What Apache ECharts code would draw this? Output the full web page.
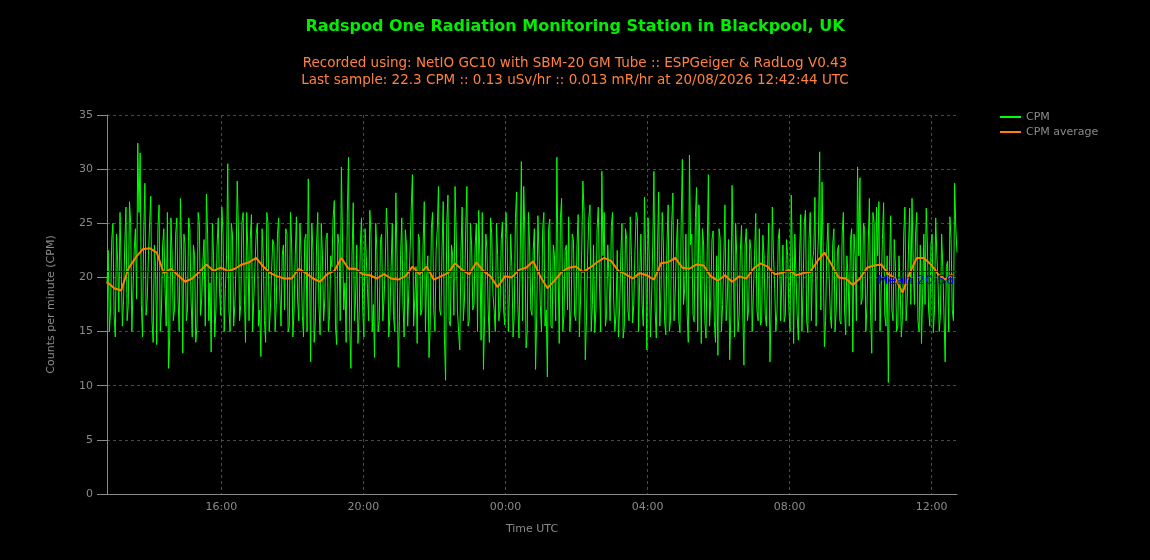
<!DOCTYPE html>
<html>
<head>
<meta charset="utf-8">
<script src="https://cdn.jsdelivr.net/npm/echarts@6/dist/echarts.min.js"></script>
<style>
html,body{margin:0;padding:0;background:#000;}
#chart{width:1150px;height:560px;}
</style>
</head>
<body>
<div id="chart"></div>
<script>
// ---- data ----
const titleText = 'Radspod One Radiation Monitoring Station in Blackpool, UK';
const subText = 'Recorded using: NetIO GC10 with SBM-20 GM Tube :: ESPGeiger & RadLog V0.43\nLast sample: 22.3 CPM :: 0.13 uSv/hr :: 0.013 mR/hr at 20/08/2026 12:42:44 UTC';
const firstSample = '2026-08-19T12:46:44Z';
const lastSample = '2026-08-20T12:42:44Z';
const cpmStepMinutes = 2;
const avgStepMinutes = 12;
const meanCPM = 20.56;

// CPM samples on the even 2-minute slots (every 4 minutes)
const cpmValuesEven = [
19.4,15,23.5,16.5,24,16.8,26,18,26.5,17.5,25,19,24.5,32.4,31.5,
14.5,28.7,18,25,16,23,13.8,26.7,17,24.5,15.5,11.6,25.5,16,24,
18,27.3,13,23,17,24.5,14.5,22,15.5,25,18,23.5,27.7,16,13.1,
22,17,25.5,16.5,24,19,30.5,15,24,17.5,28.9,16,25,18.5,26,
16,25.8,18,24,15.5,12.7,22,14,25,17,23.5,15,24,18.5,22,
17,24,15.5,23,17,25.6,16,22,14.5,24,29.1,12.2,22.5,16,26,
14.7,22,18,24.1,16.5,21,27.1,13.8,23,30.2,17,14,31.1,11.6,26.9,
18,13.9,23,17,24.5,19,26.2,15,12.6,22.5,16,24,18,26.4,14.5,
21,16.5,27.8,11.7,22,17.5,24.4,15.5,22.5,29.5,18,13.9,23.5,17,27,
20,12.6,24.5,17,22.5,28.4,16.5,27,10.5,27.6,15.5,22,28.4,17,13.3,
26.5,18,28.4,16,23,17.5,25,26.2,14.2,11.5,24,17,25.5,18.5,15,
22,17,25.1,15.6,23.5,18.5,21,16.5,27.9,14.4,30.7,28.4,13.5,26,17,
22.5,11.5,25.7,17.5,24.5,15.5,10.8,25.4,15.3,22,31.1,13.9,27.3,16.5,23,
25.6,17,23.5,16,25.8,18,28.9,12.4,22,26.7,17.5,14.9,24.5,19.5,29.8,
26,16.5,20,24.7,18,16.7,14.5,22,14.4,24.5,17,25.6,15.8,22.5,25.5,
20,17.5,27.4,13.3,22,18,29.8,14.4,27.9,19,23,14.7,26.7,16,27.8,
18.5,25.4,14.9,30.9,19,16.8,31.3,24,15.9,28.3,26.7,13.9,23,14.4,29.5,
18,24.3,14,12.8,23.5,17.5,26.7,18,12.4,28.5,14.5,22,16.5,24.8,11.9,
24.5,17,22.5,18.5,25.9,16,15.6,23.9,16.5,21,12.2,26.5,19,17,24.5,
19.5,15.9,23.5,17,27.6,13.9,24,14.2,25.8,19,26.2,14.9,26,21.5,27.4,
21,31.6,28.8,13.6,22.5,20,15.3,24.5,17,23,15.7,26,14.7,20,23.5,
13.1,22,30.2,29.2,18,24.5,17.5,27.3,13,25,26.5,27,19,26.9,15.5,
10.3,25.7,16,21,15.5,19,16.5,26.5,18,26.4,27.3,17.5,26,15,13.9,
24,26.4,17,23,14.9,25.5,19.5,16.5,21,12.2,21.5,25.6,17,28.7,22.3
];

// CPM samples on the odd 2-minute slots (between the even ones)
const cpmValuesOdd = [
22.5,17,25,14.5,21.5,26,15.5,23,16,27,15,22.5,18,26,17.5,
24,16.5,22,27.5,14,21,24.5,15,23,19,26,14.5,22,17,25.5,
15,22.5,24,16,25.5,18,23,14,26,16.5,21.5,15.5,24,19.5,25,
14.5,23,19,26.5,15,22,17,25,15.5,21,24.5,17.5,26,14,22.5,
23.5,15,21,25,17,24.5,16,26,15,20.5,23,17.5,25.5,15.5,23,
24.5,15,26,14.5,22,18,25,16.5,23.5,15,21.5,25,14,23,17.5,
25,16,23.5,15,22,25.5,15.5,24,16,23,19.5,26,15.5,22,16,
23,16.5,25.5,14.5,22,16,24,17.5,25,15,23.5,16,21,24,16.5,
25,15,22,16,25.5,14.5,23,19,26.5,15.5,21,24,16.5,23,15,
22,15.5,26,15,24.5,17,22.5,14.5,25,16,23,16.5,24,15,22.5,
16,24.5,15.5,25,17,23,15,22,26,16.5,22.5,14,24,17,25,
16,23.5,17,26,15,24,14.5,25.5,17.5,22,16,24,15,23,16.5,
24.5,16.5,22,15,26,17,24.5,15.5,23,16,21,25.5,15,22.5,17,
15,24,16.5,23,14.5,22.5,26,16,25.5,15,23,17,26.5,15,22,
15.5,23,16,26,15,22.5,17,25,15.5,23.5,16,22,17.5,26,15,
24,15.5,22,25.5,14.5,23,17,22.5,15.5,26,16,23,15,25,16,
23,16,25,17.5,24,14,23,16.5,25.5,15,22,24.5,16,22.5,15.5,
23.5,16,22,24.5,15,21.5,16,23.5,16.5,22,25,15,22.5,17,23,
16,23.5,15,22,17,24.5,16,22,15.5,25,17,22,15,23.5,16,
23,16.5,22,15,21.5,24,16.5,22,15,25,16,23.5,16,22.5,15.5,
24,17,22,16,25,16.5,23,15,22.5,16,24,17,22,15.5,24.5,
24,16,22,17.5,25,15,23,16.5,26,16,22,15,23.5,16.5,22,
21,17,23.5,15,22,14.5,24,16,22.5,17.5,21.5,24,16,23,18.5,
17.5,23,15.5,24,17,22,15,24,16.5,21,15,23.5,16,24.5
];

const avgValues = [
19.6,19.0,18.8,20.8,21.8,22.6,22.7,22.3,20.4,20.8,
20.2,19.6,19.9,20.5,21.2,20.6,20.9,20.6,20.8,21.2,
21.4,21.8,21.0,20.4,20.1,19.9,19.9,20.8,20.4,19.9,
19.6,20.3,20.6,21.8,20.8,20.8,20.3,20.2,19.9,20.3,
19.9,19.8,20.1,21.0,20.3,21.0,19.8,20.1,20.4,21.3,
20.7,20.3,21.4,20.6,20.1,19.1,20.1,20.0,20.7,20.9,
21.5,20.1,19.0,19.7,20.5,20.9,21.0,20.5,20.9,21.4,
21.8,21.5,20.6,20.3,19.9,20.4,20.2,19.8,21.3,21.4,
21.8,20.9,20.8,21.2,21.1,20.1,19.7,20.2,19.6,20.1,
19.9,20.8,21.3,21.0,20.3,20.4,20.7,20.2,20.4,20.5,
21.5,22.3,21.2,20.0,19.9,19.3,19.9,20.9,21.1,21.2,
20.3,19.9,18.6,20.4,21.8,21.8,21.2,20.3,19.8,20.3
];

const xTickTimes = ['2026-08-19T16:00:00Z','2026-08-19T20:00:00Z','2026-08-20T00:00:00Z','2026-08-20T04:00:00Z','2026-08-20T08:00:00Z','2026-08-20T12:00:00Z'];
const xTickLabels = ['16:00','20:00','00:00','04:00','08:00','12:00'];
const yTicks = {min: 0, max: 35, interval: 5};

// ---- build ----
const t0 = Date.parse(firstSample);
const tEnd = Date.parse(lastSample);
const cpmData = [];
cpmValuesEven.forEach((v, i) => {
  cpmData.push([t0 + (2 * i) * cpmStepMinutes * 60000, v]);
  if (i < cpmValuesOdd.length) cpmData.push([t0 + (2 * i + 1) * cpmStepMinutes * 60000, cpmValuesOdd[i]]);
});
const avgData = avgValues.map((v, i) => [t0 + i * avgStepMinutes * 60000, v]);
const tickMs = xTickTimes.map(s => Date.parse(s));
function labelOf(v) {
  let best = '', bestD = Infinity;
  tickMs.forEach((t, i) => { const d = Math.abs(t - v); if (d < bestD) { bestD = d; best = xTickLabels[i]; } });
  return bestD < 60000 ? best : '';
}

const font = 'DejaVu Sans, Verdana, sans-serif';
const chart = echarts.init(document.getElementById('chart'), null, {renderer: 'canvas'});
chart.setOption({
  backgroundColor: '#000000',
  animation: false,
  title: {
    text: titleText,
    subtext: subText,
    left: 'center',
    top: 17,
    padding: 0,
    itemGap: 18,
    textStyle: {color: '#00ee00', fontFamily: font, fontWeight: 'bold', fontSize: 16, lineHeight: 20},
    subtextStyle: {color: '#ff8040', fontFamily: font, fontSize: 13.5, lineHeight: 17}
  },
  legend: {
    data: ['CPM', 'CPM average'],
    orient: 'vertical',
    left: 1000,
    top: 111,
    icon: 'rect',
    itemWidth: 21,
    itemHeight: 2,
    itemGap: 3,
    padding: 0,
    textStyle: {color: '#8a8a8a', fontFamily: font, fontSize: 11, lineHeight: 12}
  },
  grid: {left: 107, right: 193, top: 115, bottom: 66, containLabel: false},
  xAxis: {
    type: 'value',
    min: t0,
    max: tEnd,
    name: 'Time UTC',
    nameLocation: 'middle',
    nameGap: 30,
    nameTextStyle: {color: '#8a8a8a', fontFamily: font, fontSize: 11},
    axisLine: {show: true, lineStyle: {color: '#8a8a8a', width: 1}},
    axisTick: {show: false, customValues: tickMs},
    axisLabel: {
      customValues: tickMs,
      color: '#8a8a8a', fontFamily: font, fontSize: 11, margin: 8,
      formatter: v => labelOf(v)
    },
    splitLine: {show: true, lineStyle: {color: '#4a4a4a', type: [3, 3], width: 1}}
  },
  yAxis: {
    type: 'value',
    min: yTicks.min,
    max: yTicks.max,
    interval: yTicks.interval,
    name: 'Counts per minute (CPM)',
    nameLocation: 'middle',
    nameGap: 50,
    nameTextStyle: {color: '#8a8a8a', fontFamily: font, fontSize: 11},
    axisLine: {show: true, lineStyle: {color: '#8a8a8a', width: 1}},
    axisTick: {show: true, length: 10, lineStyle: {color: '#8a8a8a'}},
    axisLabel: {color: '#8a8a8a', fontFamily: font, fontSize: 11, margin: 14},
    splitLine: {show: true, lineStyle: {color: '#4a4a4a', type: [3, 3], width: 1}}
  },
  series: [
    {
      name: 'Mean',
      type: 'line',
      data: [],
      z: 1,
      silent: true,
      markLine: {
        silent: true,
        symbol: 'none',
        lineStyle: {color: '#0000ff', width: 1, type: 'solid'},
        label: {position: 'insideEndBottom', distance: 3, formatter: 'Mean ' + meanCPM.toFixed(2), color: '#0000ee', fontFamily: font, fontSize: 13},
        data: [{yAxis: meanCPM}]
      }
    },
    {
      name: 'CPM',
      type: 'line',
      data: cpmData,
      z: 2,
      smooth: false,
      showSymbol: false,
      symbol: 'none',
      lineStyle: {color: '#00ff00', width: 1},
      itemStyle: {color: '#00ff00'}
    },
    {
      name: 'CPM average',
      type: 'line',
      data: avgData,
      z: 3,
      smooth: false,
      showSymbol: false,
      symbol: 'none',
      lineStyle: {color: '#ff8000', width: 2},
      itemStyle: {color: '#ff8000'}
    }
  ]
});
</script>
</body>
</html>
